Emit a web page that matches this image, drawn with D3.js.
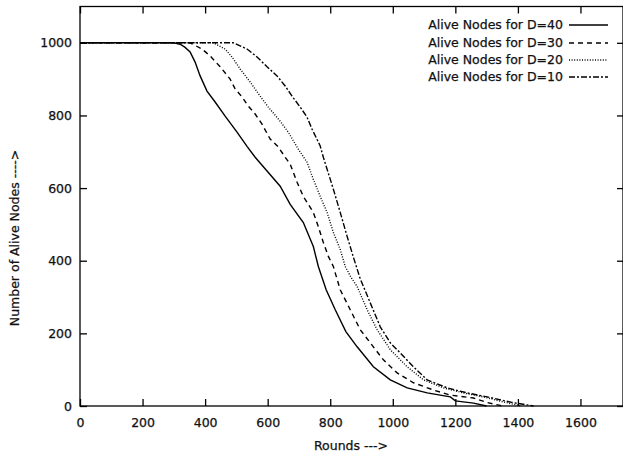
<!DOCTYPE html>
<html><head><meta charset="utf-8">
<script src="https://cdn.jsdelivr.net/npm/d3@7"></script>
<style>body{margin:0;background:#fff}svg{display:block}text{font-family:"DejaVu Sans",sans-serif;fill:#111}</style>
</head><body><svg id="c" width="623" height="461"></svg>
<script>
const xTicks=[0,200,400,600,800,1000,1200,1400,1600];
const yTicks=[0,200,400,600,800,1000];
const seriesNames=["Alive Nodes for D=40","Alive Nodes for D=30","Alive Nodes for D=20","Alive Nodes for D=10"];
const r40=[0,300,320,335,352,368,384,406,432,464,502,534,560,600,640,672,714,746,762,787,816,850,886,938,992,1046,1110,1184,1200,1258,1300];
const v40=[1000,1000,996,988,975,947,909,867,837,798,754,715,685,645,605,555,505,439,384,320,265,205,163,108,72,50,36,25,14,8,0];
const r30=[0,352,390,416,448,480,496,518,538,560,582,608,634,656,672,694,714,746,762,778,794,810,832,864,896,928,970,1014,1066,1130,1184,1258,1300,1350];
const v30=[1000,1000,983,964,934,900,873,851,826,804,776,735,713,685,666,616,577,533,494,450,412,384,320,265,210,174,127,91,64,44,30,22,10,0];
const r20=[0,426,464,486,512,544,576,602,640,666,698,726,746,768,790,810,832,848,866,886,918,950,992,1046,1098,1162,1226,1290,1350,1410];
const v20=[1000,1000,983,961,928,892,853,823,784,754,707,671,624,577,533,478,431,384,355,329,265,210,155,108,72,50,36,25,12,0];
const r10=[0,490,534,566,598,630,656,678,704,726,742,768,778,790,810,832,854,874,896,928,960,992,1024,1066,1110,1174,1238,1302,1380,1450];
const v10=[1000,1000,983,961,934,909,881,853,823,795,762,716,685,652,597,533,467,410,350,284,218,174,146,108,72,50,36,25,10,0];

const svg=d3.select("#c");
const L=80,R=623,T=6.5,B=406;
const FS="12.5px";
const x=d3.scaleLinear().domain([0,1736]).range([L,R]);
const y=d3.scaleLinear().domain([0,1100]).range([B,T]);
const series=[[r40,v40],[r30,v30],[r20,v20],[r10,v10]];
const dashes=[null,"5,4","1,1.6","6,2,2,2"];

svg.append("rect").attr("x",L).attr("y",T).attr("width",R-L).attr("height",B-T)
  .attr("fill","none").attr("stroke","#000").attr("stroke-width",1.3);

function styleText(sel){sel.attr("font-size",FS).attr("font-family","DejaVu Sans").attr("fill","#111")
  .attr("stroke","#111").attr("stroke-width",0.25);}

const ax=svg.append("g").attr("transform",`translate(0,${B})`)
  .call(d3.axisBottom(x).tickValues(xTicks).tickSizeInner(-7).tickSizeOuter(0).tickPadding(12).tickFormat(d3.format("d")));
ax.select(".domain").remove();
ax.selectAll("line").attr("stroke","#000").attr("stroke-width",1.3);
styleText(ax.selectAll("text"));
const at=svg.append("g").attr("transform",`translate(0,${T})`)
  .call(d3.axisTop(x).tickValues(xTicks).tickSizeInner(-7).tickSizeOuter(0).tickFormat(""));
at.select(".domain").remove();
at.selectAll("line").attr("stroke","#000").attr("stroke-width",1.3);
const ay=svg.append("g").attr("transform",`translate(${L},0)`)
  .call(d3.axisLeft(y).tickValues(yTicks).tickSizeInner(-7).tickSizeOuter(0).tickPadding(8).tickFormat(d3.format("d")));
ay.select(".domain").remove();
ay.selectAll("line").attr("stroke","#000").attr("stroke-width",1.3);
styleText(ay.selectAll("text"));
const ar=svg.append("g").attr("transform",`translate(${R},0)`)
  .call(d3.axisRight(y).tickValues(yTicks).tickSizeInner(-6).tickSizeOuter(0).tickFormat(""));
ar.select(".domain").remove();
ar.selectAll("line").attr("stroke","#000").attr("stroke-width",1.3);

const line=d3.line().x(d=>x(d[0])).y(d=>y(d[1]));
series.forEach((s,i)=>{
  const pts=s[0].map((r,k)=>[r,s[1][k]]);
  svg.append("path").attr("d",line(pts)).attr("fill","none").attr("stroke","#000")
    .attr("stroke-width",1.4).attr("stroke-dasharray",dashes[i]);
});

const legY=[25,43,60,77];
seriesNames.forEach((n,i)=>{
  styleText(svg.append("text").attr("x",563).attr("y",legY[i]).attr("dy","0.35em").attr("text-anchor","end").text(n));
  svg.append("line").attr("x1",569).attr("x2",608).attr("y1",legY[i]).attr("y2",legY[i])
    .attr("stroke","#000").attr("stroke-width",1.4).attr("stroke-dasharray",dashes[i]);
});

styleText(svg.append("text").attr("x",351).attr("y",446).attr("dy","0.35em").attr("text-anchor","middle").text("Rounds --->"));
styleText(svg.append("text").attr("transform","translate(15,238) rotate(-90)").attr("dy","0.35em")
  .attr("text-anchor","middle").text("Number of Alive Nodes ---->"));
</script></body></html>
